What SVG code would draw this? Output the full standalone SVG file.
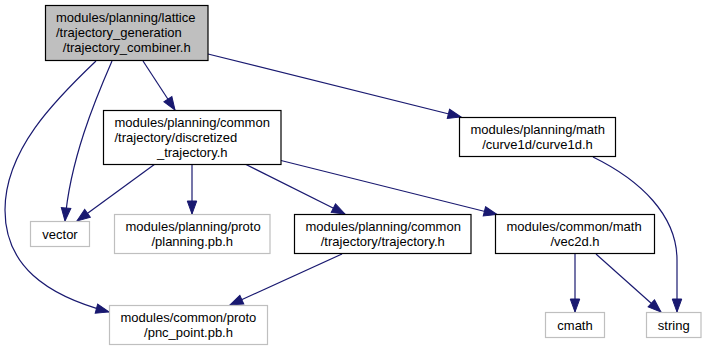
<svg xmlns="http://www.w3.org/2000/svg" width="706" height="352" viewBox="0 0 706 352">
  <style>
    .box { fill: #ffffff; stroke: #000000; stroke-width: 1.2; }
    .ext { fill: #ffffff; stroke: #bfbfbf; stroke-width: 1.2; }
    .root { fill: #bfbfbf; stroke: #000000; stroke-width: 1.2; }
    text { font-family: "Liberation Sans", Arial, Helvetica, sans-serif; font-size: 13px; fill: #000000; }
    .l { text-anchor: start; }
    .m { text-anchor: middle; }
    .edge { fill: none; stroke: #191970; stroke-width: 1.2; }
  </style>
  <defs>
    <marker id="arrow" markerUnits="userSpaceOnUse" markerWidth="15" markerHeight="11" refX="13" refY="4.75" orient="auto" overflow="visible">
      <path d="M0,0 L13,4.75 L0,9.5 z" fill="#191970" stroke="#191970" stroke-width="1"/>
    </marker>
  </defs>
  <rect width="706" height="352" fill="#ffffff"/>

  <g id="edges">
    <path class="edge" marker-end="url(#arrow)" d="M143,61 L175,110"/>
    <path class="edge" marker-end="url(#arrow)" d="M112,61 C95,100 70,160 65,221"/>
    <path class="edge" marker-end="url(#arrow)" d="M96,61 C55,100 5,150 5,210 C5,265 45,295 109,312"/>
    <path class="edge" marker-end="url(#arrow)" d="M208,54 L461,117"/>
    <path class="edge" marker-end="url(#arrow)" d="M155,164 L77,221"/>
    <path class="edge" marker-end="url(#arrow)" d="M192,164 L192,214"/>
    <path class="edge" marker-end="url(#arrow)" d="M245,164 L345,214"/>
    <path class="edge" marker-end="url(#arrow)" d="M281,160.5 L497,214.5"/>
    <path class="edge" marker-end="url(#arrow)" d="M342,254 L230,305"/>
    <path class="edge" marker-end="url(#arrow)" d="M593,157 C640,180 677,215 677,260 L677,312"/>
    <path class="edge" marker-end="url(#arrow)" d="M575,254 L575,312"/>
    <path class="edge" marker-end="url(#arrow)" d="M596,254 L661,312"/>
  </g>

  <g id="node-trajectory-combiner">
    <rect class="root" x="45.5" y="5.5" width="162.5" height="55"/>
    <text class="l" x="56" y="21.5">modules/planning/lattice</text>
    <text class="l" x="56" y="36.5">/trajectory_generation</text>
    <text class="m" x="126.75" y="51.5">/trajectory_combiner.h</text>
  </g>

  <g id="node-discretized-trajectory">
    <rect class="box" x="103.5" y="110.5" width="177.5" height="54"/>
    <text class="l" x="114.5" y="126.5">modules/planning/common</text>
    <text class="l" x="114.5" y="141.5">/trajectory/discretized</text>
    <text class="m" x="192.25" y="156.5">_trajectory.h</text>
  </g>

  <g id="node-curve1d">
    <rect class="box" x="459.5" y="117.5" width="156" height="39"/>
    <text class="l" x="470.5" y="133.5">modules/planning/math</text>
    <text class="m" x="537.5" y="148.5">/curve1d/curve1d.h</text>
  </g>

  <g id="node-vector">
    <rect class="ext" x="30.5" y="221.5" width="59" height="25"/>
    <text class="m" x="60" y="238.5">vector</text>
  </g>

  <g id="node-planning-pb">
    <rect class="ext" x="114.5" y="214.5" width="155.5" height="39"/>
    <text class="l" x="125.5" y="230.5">modules/planning/proto</text>
    <text class="m" x="192.25" y="245.5">/planning.pb.h</text>
  </g>

  <g id="node-trajectory">
    <rect class="box" x="294.5" y="214.5" width="176.5" height="39"/>
    <text class="l" x="305.5" y="230.5">modules/planning/common</text>
    <text class="m" x="382.75" y="245.5">/trajectory/trajectory.h</text>
  </g>

  <g id="node-vec2d">
    <rect class="box" x="495.5" y="214.5" width="159" height="39"/>
    <text class="l" x="506.5" y="230.5">modules/common/math</text>
    <text class="m" x="575" y="245.5">/vec2d.h</text>
  </g>

  <g id="node-pnc-point-pb">
    <rect class="ext" x="109.5" y="305.5" width="158" height="39"/>
    <text class="l" x="120.5" y="321.5">modules/common/proto</text>
    <text class="m" x="188.5" y="336.5">/pnc_point.pb.h</text>
  </g>

  <g id="node-cmath">
    <rect class="ext" x="545.5" y="312.5" width="59" height="25"/>
    <text class="m" x="575" y="329.5">cmath</text>
  </g>

  <g id="node-string">
    <rect class="ext" x="646.5" y="312.5" width="54.5" height="25"/>
    <text class="m" x="673.75" y="329.5">string</text>
  </g>
</svg>
